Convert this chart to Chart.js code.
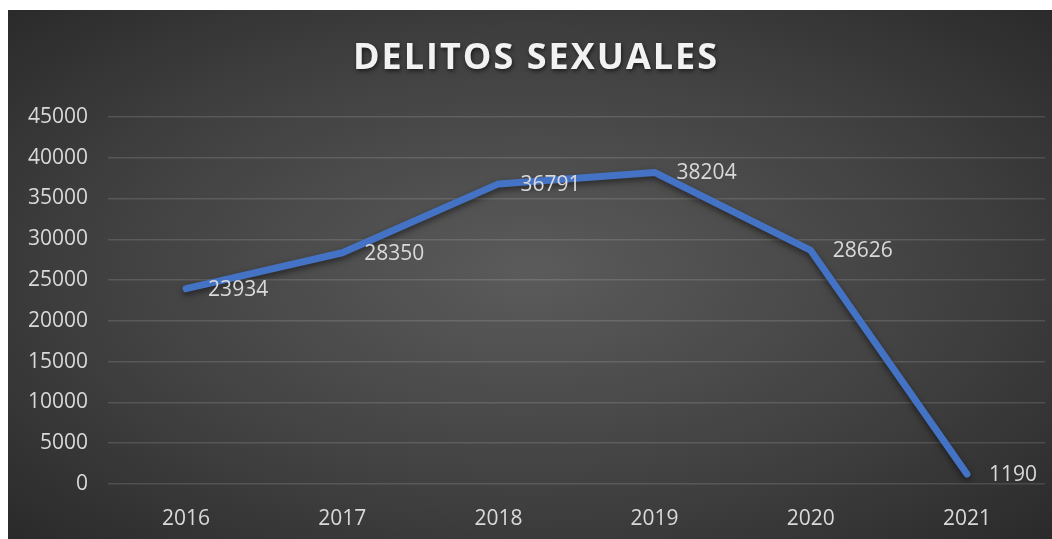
<!DOCTYPE html>
<html>
<head>
<meta charset="utf-8">
<script src="https://cdn.jsdelivr.net/npm/chart.js@4"></script>
<style>
  html, body { margin: 0; padding: 0; background: #ffffff; overflow: hidden; }
  #wrap {
    position: absolute; left: 8px; top: 10px; width: 1044px; height: 546px;
    background: radial-gradient(ellipse 75% 75% at 50% 48%, #5b5b5b 0%, #404040 55%, #262626 100%);
  }
</style>
</head>
<body>
<div id="wrap"><canvas id="chart"></canvas></div>
<script>
// Datos del gráfico
const years = ['2016', '2017', '2018', '2019', '2020', '2021'];
const delitos = [23934, 28350, 36791, 38204, 28626, 1190];
const chartTitle = 'DELITOS SEXUALES';

// Título con espaciado y sombra
const titlePlugin = {
  id: 'tituloExcel',
  afterDraw(chart) {
    const ctx = chart.ctx;
    ctx.save();
    ctx.font = 'bold 36px "Open Sans"';
    ctx.letterSpacing = '2px';
    ctx.textAlign = 'center';
    ctx.textBaseline = 'middle';
    ctx.shadowColor = 'rgba(0,0,0,0.6)';
    ctx.shadowBlur = 4;
    ctx.shadowOffsetX = 1;
    ctx.shadowOffsetY = 2;
    ctx.fillStyle = '#f2f2f2';
    ctx.fillText(chartTitle, chart.width / 2 + 6, 49);
    ctx.restore();
  }
};

// Sombra de la línea
const shadowPlugin = {
  id: 'sombraLinea',
  beforeDatasetDraw(chart) {
    const ctx = chart.ctx;
    ctx.save();
    ctx.shadowColor = 'rgba(0,0,0,0.5)';
    ctx.shadowBlur = 6;
    ctx.shadowOffsetY = 3;
  },
  afterDatasetDraw(chart) {
    chart.ctx.restore();
  }
};

// Etiquetas de datos a la derecha de cada punto
const labelsPlugin = {
  id: 'etiquetas',
  afterDatasetsDraw(chart) {
    const ctx = chart.ctx;
    const meta = chart.getDatasetMeta(0);
    ctx.save();
    ctx.font = '21px "Open Sans"';
    ctx.fillStyle = '#d9d9d9';
    ctx.textAlign = 'left';
    ctx.textBaseline = 'middle';
    meta.data.forEach((pt, i) => {
      ctx.fillText(String(delitos[i]), pt.x + 22, pt.y + 1);
    });
    ctx.restore();
  }
};

new Chart(document.getElementById('chart'), {
  type: 'line',
  data: {
    labels: years,
    datasets: [{
      data: delitos,
      borderColor: '#4472c4',
      borderWidth: 7,
      borderCapStyle: 'round',
      borderJoinStyle: 'round',
      pointRadius: 0,
      tension: 0
    }]
  },
  options: {
    responsive: true,
    maintainAspectRatio: false,
    animation: false,
    layout: { padding: { top: 107, left: 0, right: 7, bottom: 1 } },
    plugins: {
      legend: { display: false },
      tooltip: { enabled: false },
      title: { display: false }
    },
    scales: {
      x: {
        offset: true,
        grid: { display: false, drawTicks: false },
        border: { display: false },
        ticks: { color: '#d9d9d9', font: { family: 'Open Sans', size: 21 }, padding: 23 }
      },
      y: {
        min: 0,
        max: 45000,
        grid: { color: 'rgba(255,255,255,0.13)', lineWidth: 1.5, drawTicks: false },
        border: { display: false },
        ticks: {
          stepSize: 5000, color: '#d9d9d9', font: { family: 'Open Sans', size: 21 }, padding: 20,
          callback: v => String(v)
        }
      }
    }
  },
  plugins: [titlePlugin, shadowPlugin, labelsPlugin]
});
</script>
</body>
</html>
